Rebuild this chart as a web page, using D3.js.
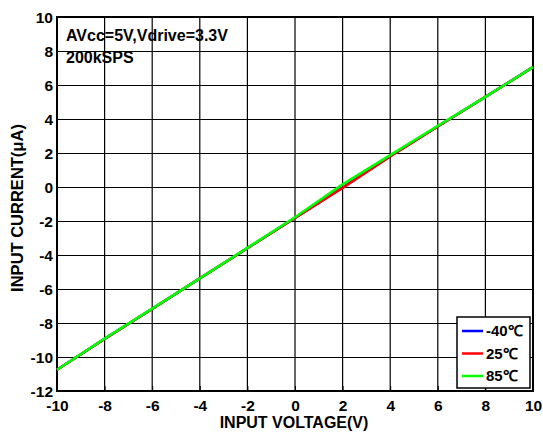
<!DOCTYPE html>
<html><head><meta charset="utf-8">
<script src="https://cdn.jsdelivr.net/npm/d3@7"></script>
<style>body{margin:0;background:#fff}svg{display:block}text{font-family:"Liberation Sans",Arial,sans-serif;font-weight:bold;fill:#000}</style>
</head><body><svg id="c" width="543" height="432"></svg>
<script>
const xValues = [-10,-8,-6,-4,-2,0,2,4,6,8,10];
const blue40 = [-10.75,-8.93,-7.17,-5.38,-3.6,-1.82,-0.03,1.82,3.56,5.3,7.05];
const red25 = [-10.75,-8.93,-7.17,-5.38,-3.6,-1.82,-0.05,1.8,3.56,5.3,7.05];
const green85 = [-10.75,-8.92,-7.16,-5.37,-3.58,-1.78,0.15,1.88,3.6,5.3,7.05];
const xTicks = [-10,-8,-6,-4,-2,0,2,4,6,8,10];
const yTicks = [-12,-10,-8,-6,-4,-2,0,2,4,6,8,10];
const seriesNames = ["-40\u2103","25\u2103","85\u2103"];
const seriesColors = ["#0000ff","#ff0000","#00ff00"];
const notes = ["AVcc=5V,Vdrive=3.3V","200kSPS"];

const svg = d3.select("#c");
const L=57,R=533,T=17,B=391;
const x = d3.scaleLinear().domain([-10,10]).range([L,R]);
const y = d3.scaleLinear().domain([-12,10]).range([B,T]);
const fmt = d => String(d);

// grid
svg.append("g").selectAll("line").data(xTicks.slice(1,-1)).join("line")
  .attr("x1",d=>x(d)).attr("x2",d=>x(d)).attr("y1",T).attr("y2",B)
  .attr("stroke","#000").attr("stroke-width",1.2);
svg.append("g").selectAll("line").data(yTicks.slice(1,-1)).join("line")
  .attr("y1",d=>Math.round(y(d))+0.5).attr("y2",d=>Math.round(y(d))+0.5).attr("x1",L).attr("x2",R)
  .attr("stroke","#000").attr("stroke-width",1.2);

// axes
const xa = svg.append("g").attr("transform",`translate(0,${B})`)
  .call(d3.axisBottom(x).tickValues(xTicks).tickSize(-5).tickPadding(7).tickFormat(fmt));
const ya = svg.append("g").attr("transform",`translate(${L},0)`)
  .call(d3.axisLeft(y).tickValues(yTicks).tickSize(-5).tickPadding(4).tickFormat(fmt));
[xa,ya].forEach(a=>{a.select(".domain").remove();a.selectAll("text").style("font-size","15.5px").style("font-family","Liberation Sans, Arial, sans-serif").style("font-weight","bold").attr("fill","#000");a.selectAll(".tick line").attr("stroke","#000");});
xa.selectAll("text").attr("dy","0.85em");
ya.selectAll("text").attr("dy","0.36em");

// frame
svg.append("rect").attr("x",L).attr("y",T).attr("width",R-L).attr("height",B-T)
  .attr("fill","none").attr("stroke","#000").attr("stroke-width",2);

// lines
const line = d3.line().x((d,i)=>x(xValues[i])).y(d=>y(d));
[blue40,red25,green85].forEach((s,k)=>{
  svg.append("path").datum(s).attr("d",line).attr("fill","none")
    .attr("stroke",seriesColors[k]).attr("stroke-width",2.6);
});

// notes
notes.forEach((t,i)=>svg.append("text").attr("x",66).attr("y",41+i*21.5).style("font-size","16px").text(t));

// axis titles
svg.append("text").attr("x",294).attr("y",428).attr("text-anchor","middle").style("font-size","16px").text("INPUT VOLTAGE(V)");
svg.append("text").attr("transform","translate(23,208) rotate(-90)").attr("text-anchor","middle").style("font-size","16.5px").text("INPUT CURRENT(\u03bcA)");

// legend
const lg = svg.append("g");
lg.append("rect").attr("x",457).attr("y",317).attr("width",73).attr("height",71).attr("fill","#fff").attr("stroke","#000").attr("stroke-width",1.5);
seriesNames.forEach((n,i)=>{
  const yy = 331+i*22.5;
  lg.append("line").attr("x1",462).attr("x2",483).attr("y1",yy).attr("y2",yy).attr("stroke",seriesColors[i]).attr("stroke-width",2.5);
  lg.append("text").attr("x",486).attr("y",yy).attr("dy","0.36em").style("font-size","15px").text(n);
});
</script></body></html>
